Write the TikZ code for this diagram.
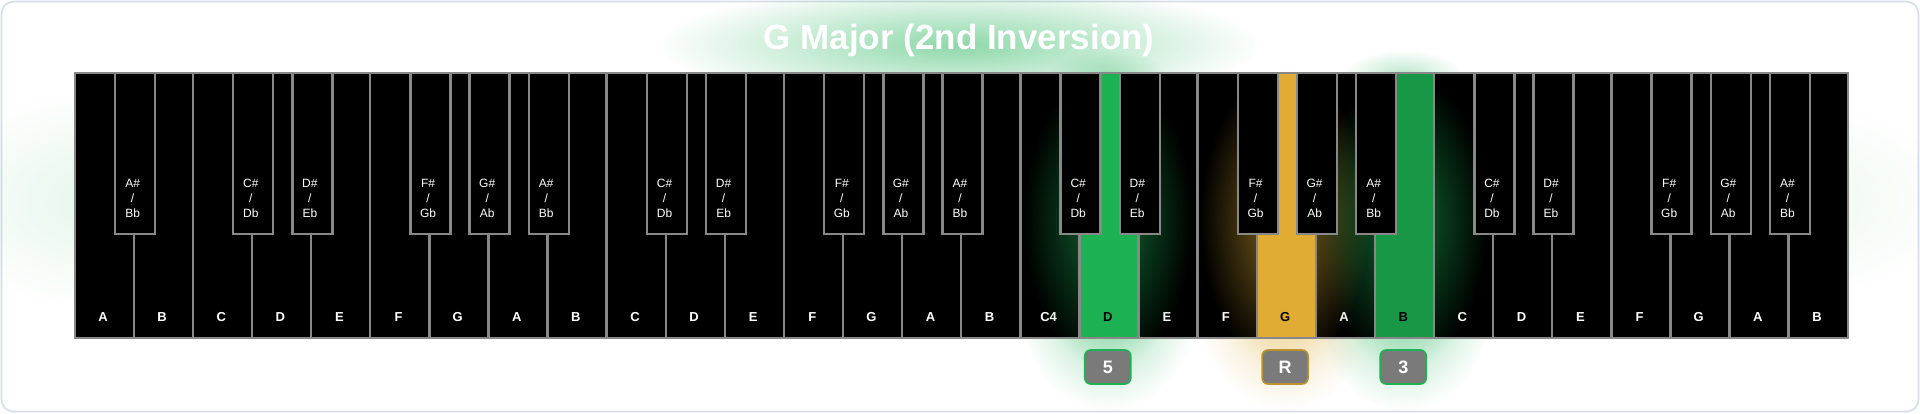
\documentclass[tikz,border=0pt]{standalone}
\usepackage{fontspec}
\setmainfont{Liberation Sans}
\usetikzlibrary{fadings}
\definecolor{keyedge}{RGB}{136,136,136}
\definecolor{notegreen}{RGB}{28,178,84}
\definecolor{notegold}{RGB}{224,172,52}
\definecolor{badgegrey}{RGB}{122,122,122}
\definecolor{frameblue}{RGB}{214,222,234}
\tikzfading[name=glowfade, inner color=transparent!0, outer color=transparent!100]
\tikzset{
  whitekey/.style={draw=keyedge, line width=1.2pt, fill=black, minimum width=29.55pt, minimum height=132.5pt, inner sep=0pt, anchor=north west},
  blackkey/.style={draw=keyedge, line width=1.2pt, fill=black, minimum width=20pt, minimum height=80.5pt, inner sep=0pt, anchor=north},
  keylabel/.style={text=white, font=\fontsize{6.5}{7}\selectfont\bfseries},
  sharplabel/.style={text=white, font=\fontsize{6}{7.5}\selectfont, align=center},
  badge/.style={fill=badgegrey, rounded corners=3pt, line width=0.8pt, minimum width=23pt, minimum height=17pt, text=white, font=\fontsize{9}{9}\selectfont\bfseries},
  glow/.style={fill=#1, path fading=glowfade}
}
\begin{document}
\begin{tikzpicture}[x=0.5pt,y=0.5pt,yscale=-1]
  \useasboundingbox (0,0) rectangle (1920,413);
  %frame
  \draw[frameblue, line width=0.8pt, rounded corners=6pt, fill=white] (1.5,1.5) rectangle (1918.5,411.5);
  %glows outside the keys
  \fill[glow=notegreen, opacity=0.5] (959,45) ellipse (300 and 60);
  \fill[glow=notegreen, opacity=0.3] (1108,75) ellipse (60 and 25);
  \fill[glow=notegreen, opacity=0.3] (1403,75) ellipse (60 and 25);
  \fill[glow=notegreen, opacity=0.45] (1108,300) ellipse (90 and 110);
  \fill[glow=notegold, opacity=0.45] (1285,300) ellipse (90 and 110);
  \fill[glow=notegreen, opacity=0.45] (1403,300) ellipse (90 and 110);
  \fill[glow=notegreen, opacity=0.12] (1700,200) ellipse (260 and 110);
  \fill[glow=notegreen, opacity=0.12] (120,200) ellipse (200 and 110);

  %white keys
  \foreach \name [count=\i from 0] in {A,B,C,D,E,F,G,A,B,C,D,E,F,G,A,B,C4,D,E,F,G,A,B,C,D,E,F,G,A,B}{
    \node[whitekey] (w\i) at ({73.5+59.1*\i},72) {};
    \node[keylabel] (l\i) at ({73.5+59.1*\i+29.55},317) {\name};
  }
  %glow on neighbouring keys
  \fill[glow=notegreen, opacity=0.6] (1108,220) ellipse (85 and 150);
  \fill[glow=notegold, opacity=0.6] (1285,220) ellipse (85 and 150);
  \fill[glow=notegreen, opacity=0.6] (1403,220) ellipse (85 and 150);
  %chord notes
  \node[whitekey, fill=notegreen] (d4) at (w17.north west) {};
  \node[keylabel, text=black] at (l17) {D};
  \node[whitekey, fill=notegold] (g4) at (w20.north west) {};
  \node[keylabel, text=black] at (l20) {G};
  \node[whitekey, fill=notegreen!85!black] (b4) at (w22.north west) {};
  \node[keylabel, text=black] at (l22) {B};

  %black keys
  \foreach \k/\sharp in {0/{A\#\\/\\Bb},2/{C\#\\/\\Db},3/{D\#\\/\\Eb},5/{F\#\\/\\Gb},6/{G\#\\/\\Ab},7/{A\#\\/\\Bb},
      9/{C\#\\/\\Db},10/{D\#\\/\\Eb},12/{F\#\\/\\Gb},13/{G\#\\/\\Ab},14/{A\#\\/\\Bb},
      16/{C\#\\/\\Db},17/{D\#\\/\\Eb},19/{F\#\\/\\Gb},20/{G\#\\/\\Ab},21/{A\#\\/\\Bb},
      23/{C\#\\/\\Db},24/{D\#\\/\\Eb},26/{F\#\\/\\Gb},27/{G\#\\/\\Ab},28/{A\#\\/\\Bb}}{
    \node[blackkey] (s\k) at (w\k.north east) {};
    \node[sharplabel] (n\k) at ({73.5+59.1*(\k+1)},198) {\sharp};
  }

  %title
  \node[text=white, font=\fontsize{17.5}{18}\selectfont\bfseries] (title) at (959,40) {G Major (2nd Inversion)};

  %interval badges
  \node[badge, draw=notegreen] (fifth) at (l17 |- 0,367) {5};
  \node[badge, draw=notegold!85!black] (root) at (l20 |- 0,367) {R};
  \node[badge, draw=notegreen] (third) at (l22 |- 0,367) {3};
\end{tikzpicture}
\end{document}
